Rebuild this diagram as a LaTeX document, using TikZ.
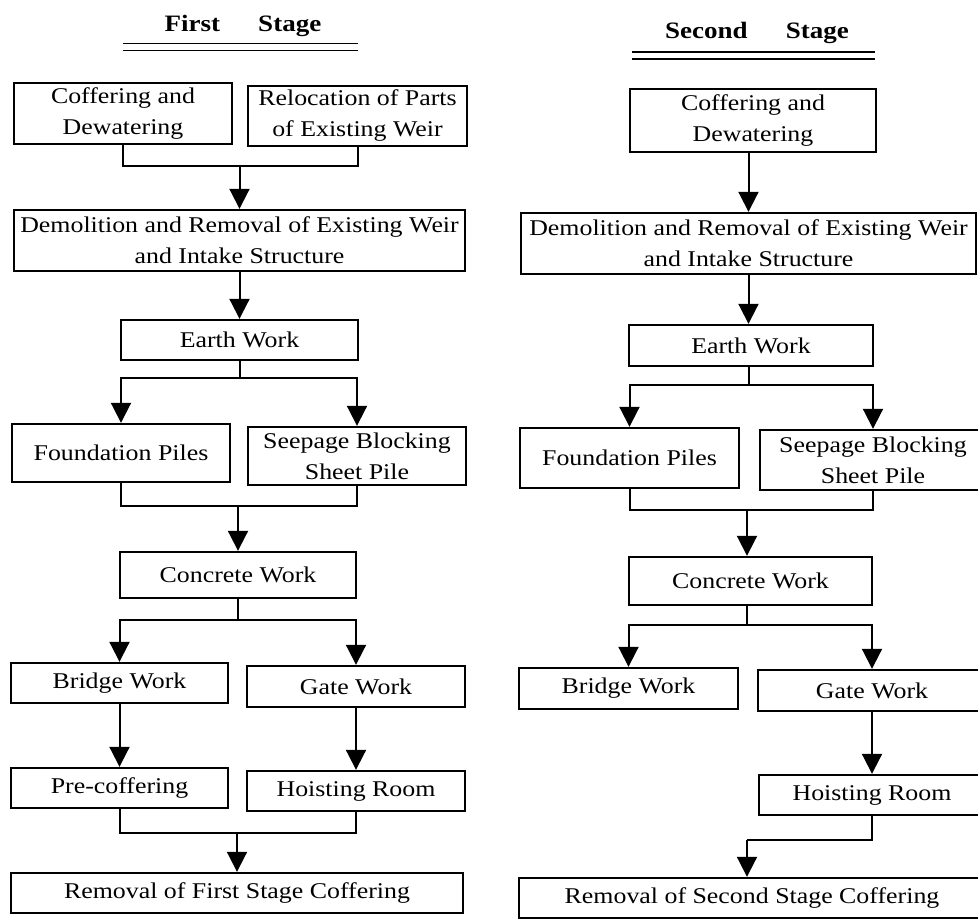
\documentclass[tikz,border=0pt]{standalone}
\usepackage{fontspec}
\setmainfont{Liberation Serif}[FakeStretch=1.15]
\usetikzlibrary{arrows.meta}
\begin{document}
\begin{tikzpicture}[x=1pt,y=-1pt,
  box/.style={draw, line width=2.4pt, inner sep=0pt, align=center,
    font=\fontsize{22.5}{31}\selectfont},
  ttl/.style={anchor=base, inner sep=0pt, font=\fontsize{23.5}{28}\selectfont\bfseries},
  conn/.style={line width=2pt},
  arr/.style={conn, -{Triangle[width=20pt,length=20pt]}},
  uline/.style={line width=1.8pt}]
\useasboundingbox (0,0) rectangle (978,919);
% titles
\node[ttl] (t1) at (243,31) {First\hspace{38pt}Stage};
\node[ttl] (t2) at (757,38) {Second\hspace{38pt}Stage};
\draw[uline] (123,43.5) -- (358,43.5);
\draw[uline] (123,50.5) -- (358,50.5);
\draw[uline] (632,52) -- (875,52);
\draw[uline] (632,59) -- (875,59);
% left column
\node[box, minimum width=218pt, minimum height=61pt] (A1) at (123,113.5) {Coffering and\\Dewatering};
\node[box, minimum width=219pt, minimum height=60pt] (A2) at (357.5,116) {Relocation of Parts\\of Existing Weir};
\node[box, minimum width=451pt, minimum height=61pt] (A3) at (239.5,240.5) {Demolition and Removal of Existing Weir\\and Intake Structure};
\node[box, minimum width=237pt, minimum height=40pt] (A4) at (239.5,340) {Earth Work};
\node[box, minimum width=218pt, minimum height=58pt] (A5) at (121,453) {Foundation Piles};
\node[box, minimum width=218pt, minimum height=58pt] (A6) at (357,456) {Seepage Blocking\\Sheet Pile};
\node[box, minimum width=236pt, minimum height=46pt] (A7) at (238,575) {Concrete Work};
\node[box, minimum width=217pt, minimum height=40pt] (A8) at (119.5,683) {Bridge Work};
\node[box, minimum width=218pt, minimum height=41pt] (A9) at (356,686.5) {Gate Work};
\node[box, minimum width=217pt, minimum height=40pt] (A10) at (119.5,788) {Pre-coffering};
\node[box, minimum width=218pt, minimum height=40pt] (A11) at (356,791) {Hoisting Room};
\node[box, minimum width=452pt, minimum height=40pt] (A12) at (237,893) {Removal of First Stage Coffering};
% left connectors
\coordinate (m1) at (239.5,166);
\draw[conn] (A1.south) |- (m1) -| (A2.south);
\draw[arr] (m1) -- (A3.north);
\draw[arr] (A3.south) -- (A4.north);
\coordinate (s1) at (239.5,378);
\draw[conn] (A4.south) -- (s1);
\draw[arr] (s1) -| (A5.north);
\draw[arr] (s1) -| (A6.north);
\coordinate (m2) at (238,506);
\draw[conn] (A5.south) |- (m2) -| (A6.south);
\draw[arr] (m2) -- (A7.north);
\coordinate (s2) at (238,620);
\draw[conn] (A7.south) -- (s2);
\draw[arr] (s2) -| (A8.north);
\draw[arr] (s2) -| (A9.north);
\draw[arr] (A8.south) -- (A10.north);
\draw[arr] (A9.south) -- (A11.north);
\coordinate (m3) at (237,833);
\draw[conn] (A10.south) |- (m3) -| (A11.south);
\draw[arr] (m3) -- (A12.north);
% right column
\node[box, minimum width=246pt, minimum height=63pt] (B1) at (753,120.5) {Coffering and\\Dewatering};
\node[box, minimum width=455pt, minimum height=61pt] (B3) at (748.5,243.5) {Demolition and Removal of Existing Weir\\and Intake Structure};
\node[box, minimum width=244pt, minimum height=41pt] (B4) at (751,345.5) {Earth Work};
\node[box, minimum width=219pt, minimum height=60pt] (B5) at (629.5,458) {Foundation Piles};
\node[box, minimum width=226pt, minimum height=60pt] (B6) at (873,460) {Seepage Blocking\\Sheet Pile};
\node[box, minimum width=243pt, minimum height=48pt] (B7) at (750.5,581) {Concrete Work};
\node[box, minimum width=219pt, minimum height=41pt] (B8) at (628.5,688.5) {Bridge Work};
\node[box, minimum width=228pt, minimum height=41pt] (B9) at (872,690.5) {Gate Work};
\node[box, minimum width=226pt, minimum height=40pt] (B11) at (872,795) {Hoisting Room};
\node[box, minimum width=466pt, minimum height=40pt] (B12) at (752,898) {Removal of Second Stage Coffering};
% right connectors
\draw[arr] (B1.south -| B3.north) -- (B3.north);
\draw[arr] (B3.south) -- (B3.south |- B4.north);
\coordinate (s3) at (748.5,385);
\draw[conn] (B3.south |- B4.south) -- (s3);
\draw[arr] (s3) -| (B5.north);
\draw[arr] (s3) -| (B6.north);
\coordinate (m4) at (747,510);
\draw[conn] (B5.south) |- (m4) -| (B6.south);
\draw[arr] (m4) -- (m4 |- B7.north);
\coordinate (s4) at (747,625);
\draw[conn] (m4 |- B7.south) -- (s4);
\draw[arr] (s4) -| (B8.north);
\draw[arr] (s4) -| (B9.north);
\draw[arr] (B9.south) -- (B11.north);
\coordinate (m5) at (747,840);
\draw[conn] (B11.south) |- (m5);
\draw[arr] (m5) -- (m5 |- B12.north);
\end{tikzpicture}
\end{document}
